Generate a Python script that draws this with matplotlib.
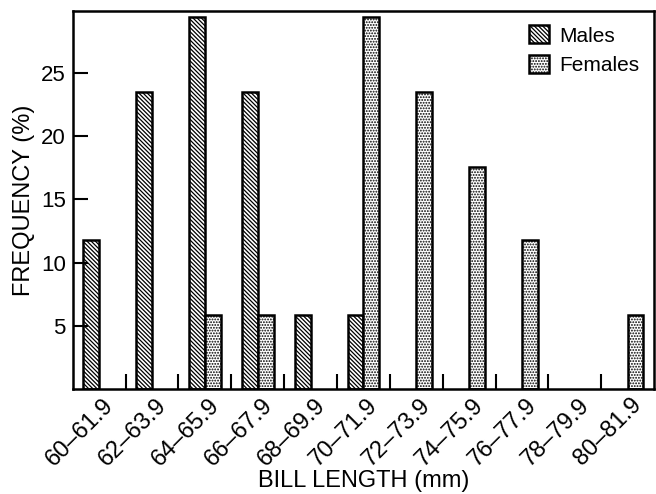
import numpy as np
import matplotlib
matplotlib.use("Agg")
import matplotlib.pyplot as plt
import matplotlib.transforms as mtransforms

plt.rcParams['font.family'] = ['Liberation Sans', 'DejaVu Sans']
plt.rcParams['hatch.linewidth'] = 0.9

# bill length classes (mm)
classes = ["60\u201361.9", "62\u201363.9", "64\u201365.9", "66\u201367.9", "68\u201369.9",
           "70\u201371.9", "72\u201373.9", "74\u201375.9", "76\u201377.9", "78\u201379.9",
           "80\u201381.9"]
males = [11.8, 23.5, 29.4, 23.5, 5.9, 5.9, 0, 0, 0, 0, 0]
females = [0, 0, 5.9, 5.9, 0, 29.4, 23.5, 17.6, 11.8, 0, 5.9]

fig = plt.figure(figsize=(6.56, 4.94), dpi=100)
ax = fig.add_axes([0.111, 0.212, 0.886, 0.766])

x = np.arange(len(classes))
w = 0.3
m = np.array(males)
f = np.array(females)
mk = m > 0
fk = f > 0
ax.bar(x[mk] - w / 2, m[mk], w, color="white", edgecolor="black",
       hatch="\\" * 8, linewidth=1.8, label="Males")
ax.bar(x[fk] + w / 2, f[fk], w, color="white", edgecolor="black",
       hatch="." * 6, linewidth=1.8, label="Females")

ax.set_xlim(-0.5, len(classes) - 0.5)
ax.set_ylim(0, 29.9)
ax.set_yticks([5, 10, 15, 20, 25])
ax.set_xticks(x)
ax.set_xticklabels(classes, rotation=45, ha="right", va="center",
                   rotation_mode="anchor")
ax.set_xticks(np.arange(0.5, len(classes) - 1, 1), minor=True)
ax.tick_params(axis="x", which="major", length=0, labelsize=17, pad=9)
ax.tick_params(axis="x", which="minor", direction="in", length=11, width=1.5)
ax.tick_params(axis="y", direction="in", length=11, width=1.5, labelsize=16,
               pad=5)
# nudge the rotated labels a bit to the right like the original
# (after tick_params, which resets the label transforms)
shift = mtransforms.ScaledTranslation(0.11, 0, fig.dpi_scale_trans)
for lab in ax.get_xticklabels():
    lab.set_transform(lab.get_transform() + shift)
for s in ax.spines.values():
    s.set_linewidth(1.8)

ax.set_xlabel("BILL LENGTH (mm)", fontsize=17, labelpad=0)
ax.set_ylabel("FREQUENCY (%)", fontsize=17, labelpad=4)

ax.legend(loc="upper right", frameon=False, fontsize=15, handlelength=0.95,
          handleheight=0.95, handletextpad=0.5, labelspacing=0.45,
          borderpad=0.2, borderaxespad=0.5)

fig.savefig("out.png", dpi=100)
